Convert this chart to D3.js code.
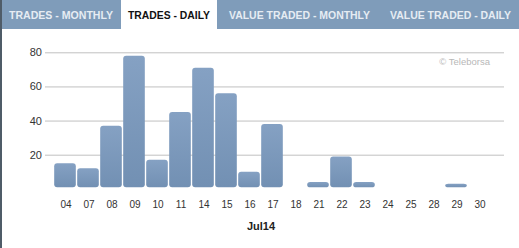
<!DOCTYPE html>
<html>
<head>
<meta charset="utf-8">
<script src="https://cdn.jsdelivr.net/npm/d3@7"></script>
<style>
  body { margin: 0; background: #fff; }
  svg { display: block; font-family: "Liberation Sans", Arial, sans-serif; }
</style>
</head>
<body>
<div id="chart"></div>
<script>
// Data
const tabs = ["TRADES - MONTHLY", "TRADES - DAILY", "VALUE TRADED - MONTHLY", "VALUE TRADED - DAILY"];
const tabX = [2, 121, 217, 380, 519];      // tab edges
const tabText = [[9, 104], [128, 82], [229, 141], [390, 121]]; // text start, text width
const activeTab = 1;
const days = ["04", "07", "08", "09", "10", "11", "14", "15", "16", "17", "18", "21", "22", "23", "24", "25", "28", "29", "30"];
const trades = [15, 12, 37, 78, 17, 45, 71, 56, 10, 38, 0, 4, 19, 4, 0, 0, 0, 3, 0];
const yTicks = [20, 40, 60, 80];
const monthLabel = "Jul14";

const width = 519, height = 248;

const svg = d3.select("#chart").append("svg")
    .attr("width", width)
    .attr("height", height);

const defs = svg.append("defs");
const grad = defs.append("linearGradient")
    .attr("id", "barGrad")
    .attr("x1", 0).attr("y1", 0).attr("x2", 0).attr("y2", 1);
grad.append("stop").attr("offset", "0%").attr("stop-color", "#85a1c3");
grad.append("stop").attr("offset", "100%").attr("stop-color", "#7290b3");

// Tab bar
svg.append("rect")
    .attr("x", 0).attr("y", 0)
    .attr("width", width).attr("height", 29)
    .attr("fill", "#7f9cba");

tabs.forEach((t, i) => {
    if (i === activeTab) {
        svg.append("rect")
            .attr("x", tabX[i]).attr("y", 0)
            .attr("width", tabX[i + 1] - tabX[i]).attr("height", 29)
            .attr("fill", "#fff");
    }
    svg.append("text")
        .attr("x", tabText[i][0])
        .attr("y", 18.5)
        .attr("textLength", tabText[i][1])
        .attr("lengthAdjust", "spacingAndGlyphs")
        .attr("font-size", 11)
        .attr("font-weight", "bold")
        .attr("fill", i === activeTab ? "#111" : "#e6ecf3")
        .text(t);
});

// Left border
svg.append("rect")
    .attr("x", 0).attr("y", 0)
    .attr("width", 2).attr("height", height)
    .attr("fill", "#4f5c68");

// Scales
const x = d3.scaleBand()
    .domain(days)
    .range([53.5, 490.5])
    .paddingInner(0.06)
    .paddingOuter(0.03);

const y = d3.scaleLinear()
    .domain([0, 80])
    .range([188.8, 52.3]);

// Gridlines + y labels
const yAxis = d3.axisLeft(y)
    .tickValues(yTicks)
    .tickSize(-459)
    .tickPadding(3);

const gy = svg.append("g")
    .attr("transform", "translate(45,0)")
    .call(yAxis);
gy.select(".domain").remove();
gy.selectAll(".tick line").attr("stroke", "#c0c0c0").attr("stroke-width", 1);
gy.selectAll(".tick text")
    .attr("font-size", 11)
    .attr("fill", "#333")
    .attr("font-family", "Liberation Sans, Arial, sans-serif");

// Credit
svg.append("text")
    .attr("x", 490)
    .attr("y", 65)
    .attr("text-anchor", "end")
    .attr("font-size", 9.5)
    .attr("fill", "#b8b8b8")
    .text("© Teleborsa");

// Bars
svg.selectAll("rect.bar")
    .data(days.map((d, i) => ({ day: d, value: trades[i] })).filter(d => d.value > 0))
    .enter()
    .append("rect")
    .attr("class", "bar")
    .attr("x", d => x(d.day))
    .attr("y", d => y(d.value))
    .attr("width", x.bandwidth())
    .attr("height", d => y(0) - y(d.value) - 1.5)
    .attr("rx", 3)
    .attr("ry", 3)
    .attr("fill", "url(#barGrad)");

// X axis labels
const xAxis = d3.axisBottom(x).tickSize(0).tickPadding(12);
const gx = svg.append("g")
    .attr("transform", `translate(1,${y(0)})`)
    .call(xAxis);
gx.select(".domain").remove();
gx.selectAll(".tick text")
    .attr("font-size", 10)
    .attr("fill", "#333")
    .attr("font-family", "Liberation Sans, Arial, sans-serif");

svg.append("text")
    .attr("x", 261)
    .attr("y", 230)
    .attr("text-anchor", "middle")
    .attr("font-size", 11)
    .attr("font-weight", "bold")
    .attr("fill", "#222")
    .text(monthLabel);
</script>
</body>
</html>
